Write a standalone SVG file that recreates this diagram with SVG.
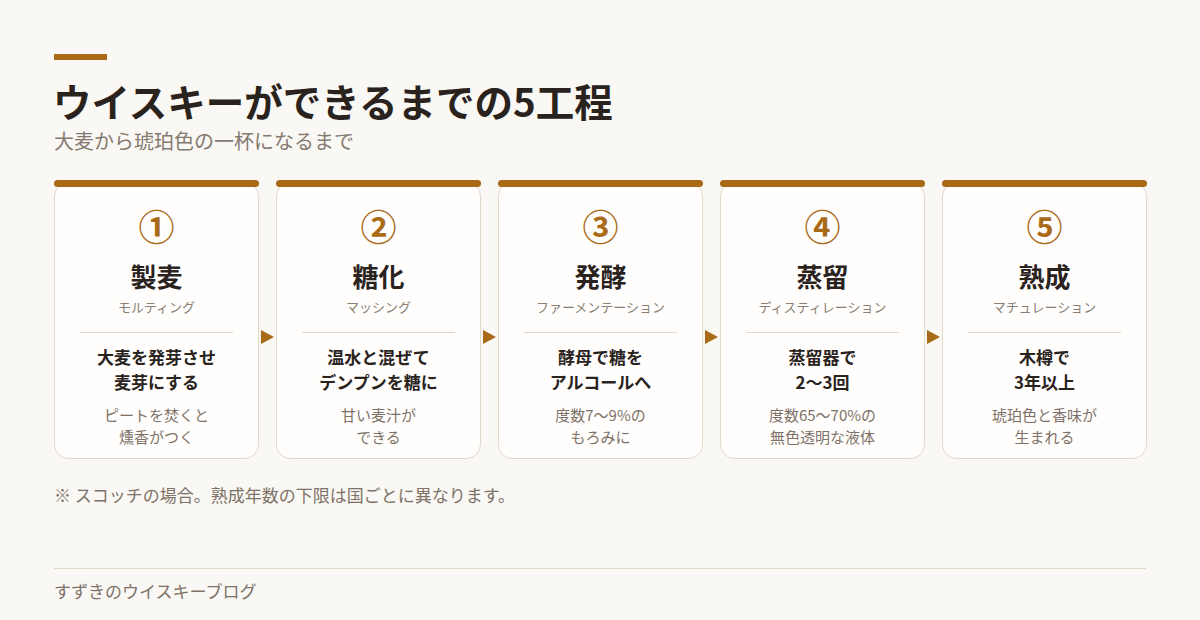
<svg xmlns="http://www.w3.org/2000/svg" width="1200" height="620" viewBox="0 0 1200 620">
<style>
text{font-family:"Noto Sans CJK JP","Noto Sans",sans-serif;}
.card{fill:#FFFEFC;stroke:#E3D8C8;stroke-width:1;}
.bar{fill:#A96A18;}
.num{font-size:36px;font-weight:700;fill:#A96A18;text-anchor:middle;}
.ttl{font-size:26px;font-weight:700;fill:#2A231D;text-anchor:middle;}
.sub{font-size:13px;fill:#8A7E74;text-anchor:middle;}
.desc{font-size:17px;font-weight:700;fill:#2A231D;text-anchor:middle;}
.note{font-size:15px;fill:#7E7268;text-anchor:middle;}
.div{stroke:#E3D8C8;stroke-width:1;}
.arr{fill:#A96A18;}
</style>
<rect width="1200" height="620" fill="#FAF8F4"/>
<rect x="54" y="54" width="53" height="6" fill="#A96A18"/>
<text x="53" y="117" font-size="38.5" font-weight="700" fill="#2A231D">ウイスキーができるまでの5工程</text>
<text x="54" y="149" font-size="20" fill="#857A70">大麦から琥珀色の一杯になるまで</text>

<g id="step1">
<rect class="card" x="54.5" y="182.5" width="204" height="276" rx="14"/>
<rect class="bar" x="54" y="180" width="205" height="7" rx="3.5"/>
<text class="num" x="156.5" y="241">①</text>
<text class="ttl" x="156.5" y="287">製麦</text>
<text class="sub" x="156.5" y="312">モルティング</text>
<line class="div" x1="80" y1="332.5" x2="233" y2="332.5"/>
<text class="desc" x="156.5" y="364">大麦を発芽させ</text>
<text class="desc" x="156.5" y="389">麦芽にする</text>
<text class="note" x="156.5" y="421">ピートを焚くと</text>
<text class="note" x="156.5" y="443">燻香がつく</text>
</g>
<g id="step2">
<rect class="card" x="276.5" y="182.5" width="204" height="276" rx="14"/>
<rect class="bar" x="276" y="180" width="205" height="7" rx="3.5"/>
<text class="num" x="378.5" y="241">②</text>
<text class="ttl" x="378.5" y="287">糖化</text>
<text class="sub" x="378.5" y="312">マッシング</text>
<line class="div" x1="302" y1="332.5" x2="455" y2="332.5"/>
<text class="desc" x="378.5" y="364">温水と混ぜて</text>
<text class="desc" x="378.5" y="389">デンプンを糖に</text>
<text class="note" x="378.5" y="421">甘い麦汁が</text>
<text class="note" x="378.5" y="443">できる</text>
</g>
<g id="step3">
<rect class="card" x="498.5" y="182.5" width="204" height="276" rx="14"/>
<rect class="bar" x="498" y="180" width="205" height="7" rx="3.5"/>
<text class="num" x="600.5" y="241">③</text>
<text class="ttl" x="600.5" y="287">発酵</text>
<text class="sub" x="600.5" y="312">ファーメンテーション</text>
<line class="div" x1="524" y1="332.5" x2="677" y2="332.5"/>
<text class="desc" x="600.5" y="364">酵母で糖を</text>
<text class="desc" x="600.5" y="389">アルコールへ</text>
<text class="note" x="600.5" y="421">度数7〜9%の</text>
<text class="note" x="600.5" y="443">もろみに</text>
</g>
<g id="step4">
<rect class="card" x="720.5" y="182.5" width="204" height="276" rx="14"/>
<rect class="bar" x="720" y="180" width="205" height="7" rx="3.5"/>
<text class="num" x="822.5" y="241">④</text>
<text class="ttl" x="822.5" y="287">蒸留</text>
<text class="sub" x="822.5" y="312">ディスティレーション</text>
<line class="div" x1="746" y1="332.5" x2="899" y2="332.5"/>
<text class="desc" x="822.5" y="364">蒸留器で</text>
<text class="desc" x="822.5" y="389">2〜3回</text>
<text class="note" x="822.5" y="421">度数65〜70%の</text>
<text class="note" x="822.5" y="443">無色透明な液体</text>
</g>
<g id="step5">
<rect class="card" x="942.5" y="182.5" width="204" height="276" rx="14"/>
<rect class="bar" x="942" y="180" width="205" height="7" rx="3.5"/>
<text class="num" x="1044.5" y="241">⑤</text>
<text class="ttl" x="1044.5" y="287">熟成</text>
<text class="sub" x="1044.5" y="312">マチュレーション</text>
<line class="div" x1="968" y1="332.5" x2="1121" y2="332.5"/>
<text class="desc" x="1044.5" y="364">木樽で</text>
<text class="desc" x="1044.5" y="389">3年以上</text>
<text class="note" x="1044.5" y="421">琥珀色と香味が</text>
<text class="note" x="1044.5" y="443">生まれる</text>
</g>
<g id="connectors">
<polygon class="arr" points="261,330 274,337 261,344"/>
<polygon class="arr" points="483,330 496,337 483,344"/>
<polygon class="arr" points="705,330 718,337 705,344"/>
<polygon class="arr" points="927,330 940,337 927,344"/>
</g>
<text x="54" y="502" font-size="17" fill="#7E7268">※ スコッチの場合。熟成年数の下限は国ごとに異なります。</text>
<line x1="54" y1="568.5" x2="1146" y2="568.5" stroke="#E3D8C8" stroke-width="1"/>
<text x="54" y="598" font-size="17" fill="#7E7268">すずきのウイスキーブログ</text>
</svg>
